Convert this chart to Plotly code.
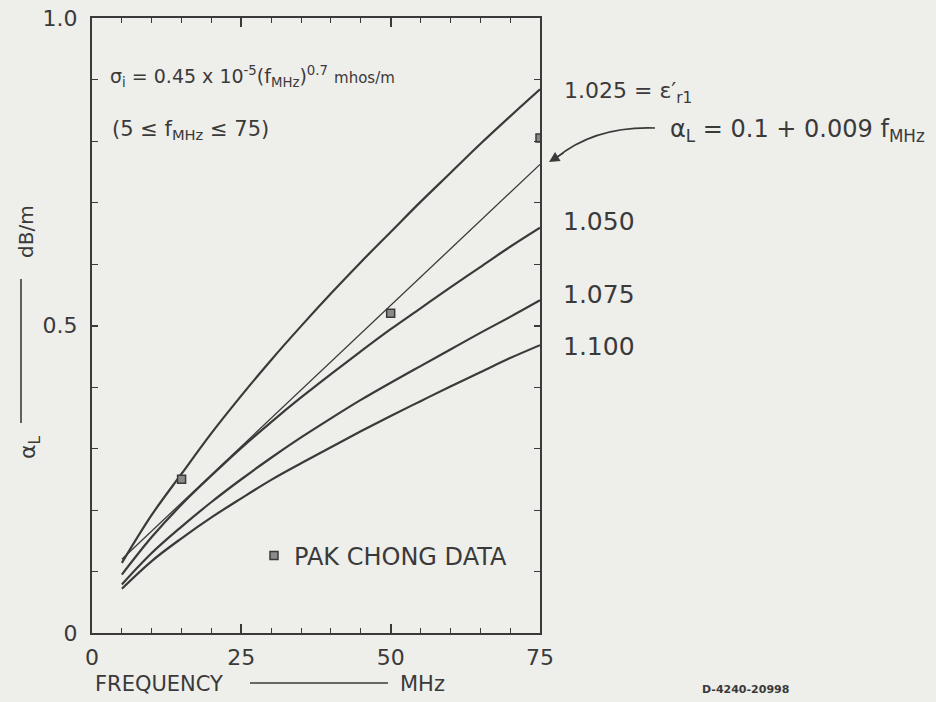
import plotly.graph_objects as go

# ---- data ----
freq = [5, 10, 15, 20, 25, 30, 35, 40, 45, 50, 55, 60, 65, 70, 75]
curve_1025 = [0.114, 0.192, 0.259, 0.325, 0.386, 0.444, 0.499, 0.552, 0.603, 0.652, 0.701, 0.748, 0.795, 0.840, 0.884]
curve_1050 = [0.095, 0.156, 0.209, 0.256, 0.301, 0.343, 0.383, 0.421, 0.458, 0.494, 0.528, 0.562, 0.595, 0.628, 0.659]
curve_1075 = [0.079, 0.130, 0.173, 0.213, 0.250, 0.285, 0.318, 0.349, 0.379, 0.407, 0.434, 0.461, 0.488, 0.514, 0.541]
curve_1100 = [0.072, 0.117, 0.154, 0.188, 0.219, 0.249, 0.276, 0.302, 0.328, 0.353, 0.377, 0.401, 0.424, 0.447, 0.468]
linear_f = [5, 75]
linear_alpha = [0.12, 0.762]
pak_f = [15, 50, 75]
pak_alpha = [0.25, 0.52, 0.805]

curve_labels = ["1.025", "1.050", "1.075", "1.100"]

INK = "#3a3a3a"
PAPER = "#eeeeea"
FONT = "DejaVu Sans"

fig = go.Figure()
for ys in [curve_1025, curve_1050, curve_1075, curve_1100]:
    fig.add_trace(go.Scatter(x=freq, y=ys, mode="lines", line=dict(color=INK, width=2.2, shape="spline"),
                             showlegend=False, hoverinfo="skip"))
fig.add_trace(go.Scatter(x=linear_f, y=linear_alpha, mode="lines", line=dict(color=INK, width=1.3),
                         showlegend=False, hoverinfo="skip"))
fig.add_trace(go.Scatter(x=pak_f, y=pak_alpha, mode="markers", name="PAK CHONG DATA",
                         marker=dict(symbol="square", size=8, color="#8a8a8a", line=dict(color=INK, width=1.5)),
                         showlegend=True))

W, H = 936, 702
L, R, T, B = 92, 540, 18, 633

def px(x):
    return (x - L) / (R - L)

def py(y):
    return (B - y) / (B - T)

ann = []
def text(x, y, s, size, xanchor="left", angle=0, yanchor="middle"):
    ann.append(dict(x=px(x), y=py(y), xref="paper", yref="paper", text=s, showarrow=False,
                    xanchor=xanchor, yanchor=yanchor, textangle=angle,
                    font=dict(family=FONT, size=size, color=INK)))

text(108, 76, "σ<sub>i</sub> = 0.45 x 10<sup>-5</sup>(f<sub>MHz</sub>)<sup>0.7</sup> <span style='font-size:15px'>mhos/m</span>", 19)
text(110, 130, "(5 ≤ f<sub>MHz</sub> ≤ 75)", 21)
text(562, 92, "1.025 = ε′<sub>r1</sub>", 22)
text(668, 130, "α<sub>L</sub> = 0.1 + 0.009 f<sub>MHz</sub>", 24)
text(561, 222, curve_labels[1], 25)
text(561, 294, curve_labels[2], 25)
text(561, 346, curve_labels[3], 25)
text(93, 684, "FREQUENCY", 21)
text(398, 684, "MHz", 21)
text(700, 689, "<b>D-4240-20998</b>", 11)
text(30, 447, "α<sub>L</sub>", 22, xanchor="center", angle=-90)
text(26, 232, "dB/m", 20, xanchor="center", angle=-90)

# arrowhead for the curved pointer
ann.append(dict(x=px(549), y=py(162), xref="paper", yref="paper", ax=16, ay=-10, text="",
                showarrow=True, arrowhead=2, arrowsize=1.3, arrowwidth=1.6, arrowcolor=INK))

shapes = [
    dict(type="line", xref="paper", yref="paper", x0=px(250), x1=px(388), y0=py(683), y1=py(683),
         line=dict(color=INK, width=1.6)),
    dict(type="line", xref="paper", yref="paper", x0=px(21), x1=px(21), y0=py(279), y1=py(423),
         line=dict(color=INK, width=1.6)),
    dict(type="path", xref="paper", yref="paper",
         path=f"M {px(655)},{py(128)} Q {px(595)},{py(126)} {px(556)},{py(158)}",
         line=dict(color=INK, width=1.6)),
]

fig.update_layout(
    width=W, height=H, autosize=False,
    margin=dict(l=L, r=W - R, t=T, b=H - B, pad=0, autoexpand=False),
    paper_bgcolor=PAPER, plot_bgcolor=PAPER,
    font=dict(family=FONT, color=INK),
    annotations=ann, shapes=shapes,
    legend=dict(x=px(254), y=py(556), xanchor="left", yanchor="middle", bgcolor="rgba(0,0,0,0)",
                font=dict(family=FONT, size=24, color=INK), itemwidth=30),
    xaxis=dict(range=[0, 75], tickvals=[0, 25, 50, 75], ticks="inside", ticklen=9, tickwidth=1.5,
               tickcolor=INK, showline=True, linecolor=INK, linewidth=2, mirror="ticks",
               showgrid=False, zeroline=False, tickfont=dict(family=FONT, size=22, color=INK),
               ticklabelstandoff=4, automargin=False,
               minor=dict(dtick=5, ticks="inside", ticklen=5, tickcolor=INK, tickwidth=1.3, showgrid=False)),
    yaxis=dict(range=[0, 1.0], tickvals=[0, 0.5, 1.0], ticktext=["0", "0.5", "1.0"], ticks="inside",
               ticklen=6, tickwidth=1.5, tickcolor=INK, showline=True, linecolor=INK, linewidth=2,
               mirror="ticks", showgrid=False, zeroline=False, automargin=False,
               tickfont=dict(family=FONT, size=22, color=INK), ticklabelstandoff=8,
               minor=dict(dtick=0.1, ticks="inside", ticklen=6, tickcolor=INK, tickwidth=1.3, showgrid=False)),
)

fig.write_html("out.html", config={"displayModeBar": False},
               post_script="document.body.style.margin='0';document.body.style.background='#eeeeea';")
